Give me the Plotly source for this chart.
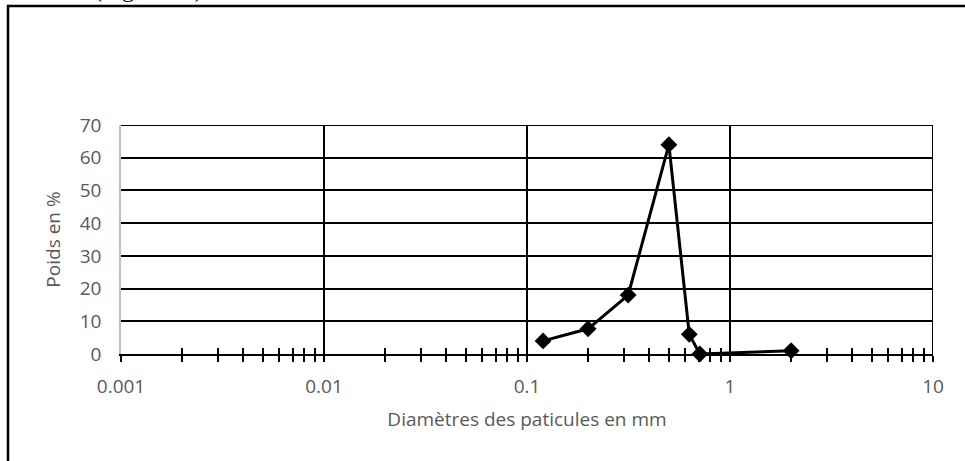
import plotly.graph_objects as go

# Data
diametres_mm = [0.12, 0.2, 0.315, 0.5, 0.63, 0.71, 2.0]
poids_pct = [4, 7.7, 18, 64, 6, 0, 1]

x_tick_vals = [0.001, 0.01, 0.1, 1, 10]
x_tick_text = ["0.001", "0.01", "0.1", "1", "10"]
x_grid_vals = [0.01, 0.1, 1, 10]
x_minor_vals = [m * 10 ** e for e in range(-3, 1) for m in range(2, 10)]

FONT = "Open Sans"
GRAY = "#595959"

fig = go.Figure()
fig.add_trace(go.Scatter(
    x=diametres_mm, y=poids_pct, mode="lines+markers",
    line=dict(color="black", width=3),
    marker=dict(symbol="diamond", size=13, color="black"),
    cliponaxis=False, showlegend=False,
))
# helper trace on overlay axis (inside half of the crossing ticks)
fig.add_trace(go.Scatter(
    x=diametres_mm, y=poids_pct, mode="markers", xaxis="x2",
    marker=dict(opacity=0), hoverinfo="skip", showlegend=False,
))

L, R, T, B = 121, 32, 125, 107
fig.update_layout(
    width=965, height=461,
    margin=dict(l=L, r=R, t=T, b=B),
    paper_bgcolor="white", plot_bgcolor="white",
    font=dict(family=FONT, color=GRAY, size=20),
    xaxis=dict(
        type="log", range=[-3, 1],
        tickmode="array", tickvals=x_tick_vals, ticktext=x_tick_text,
        ticks="outside", ticklen=6, tickwidth=2, tickcolor="black",
        minor=dict(tickmode="array", tickvals=x_minor_vals, ticks="outside",
                   ticklen=6, tickwidth=2, tickcolor="black", showgrid=False),
        showgrid=False, zeroline=False,
        showline=True, linecolor="black", linewidth=2,
        tickfont=dict(size=19, color=GRAY), ticklabelstandoff=8,
        title=dict(text="Diamètres des paticules en mm", font=dict(size=19, color=GRAY), standoff=15),
    ),
    xaxis2=dict(
        type="log", range=[-3, 1], overlaying="x", anchor="y", side="bottom",
        tickmode="array", tickvals=x_tick_vals,
        ticks="inside", ticklen=6, tickwidth=2, tickcolor="black",
        minor=dict(tickmode="array", tickvals=x_minor_vals, ticks="inside",
                   ticklen=6, tickwidth=2, tickcolor="black", showgrid=False),
        showticklabels=False, showline=False, zeroline=False,
        showgrid=False,
    ),
    yaxis=dict(
        range=[0, 70], dtick=10, tick0=0,
        showgrid=True, gridcolor="black", gridwidth=2,
        zeroline=False, showline=True, linecolor="#bfbfbf", linewidth=1.5,
        ticks="", tickfont=dict(size=19, color=GRAY), ticklabelstandoff=14,
        title=dict(text="Poids en %", font=dict(size=19, color=GRAY), standoff=14),
    ),
)

# decade grid lines (vertical)
for xv in x_grid_vals:
    fig.add_shape(type="line", xref="x", yref="paper", x0=xv, x1=xv, y0=0, y1=1,
                  line=dict(color="black", width=2), layer="below")
# top gridline at 70
fig.add_shape(type="line", xref="paper", yref="y", x0=0, x1=1, y0=70, y1=70,
              line=dict(color="black", width=2), layer="below")

# outer frame (document border)
W_plot, H_plot = 965 - L - R, 461 - T - B
def px_x(p):
    return (p - L) / W_plot
def px_y(p):
    return (461 - B - p) / H_plot
fig.add_shape(type="rect", xref="paper", yref="paper",
              x0=px_x(8), x1=px_x(975), y0=px_y(475), y1=px_y(6),
              line=dict(color="black", width=2.5), fillcolor="rgba(0,0,0,0)")

# cropped caption above the frame (only its lower edge is visible)
fig.add_annotation(text="(Figure 10)", xref="paper", yref="paper",
                   x=px_x(92), y=px_y(4), xanchor="left", yanchor="bottom",
                   showarrow=False, font=dict(family="Liberation Serif", size=24, color="black"))

fig.write_html("out.html", config={"displayModeBar": False},
               post_script="document.body.style.margin='0';document.body.style.overflow='hidden';")
